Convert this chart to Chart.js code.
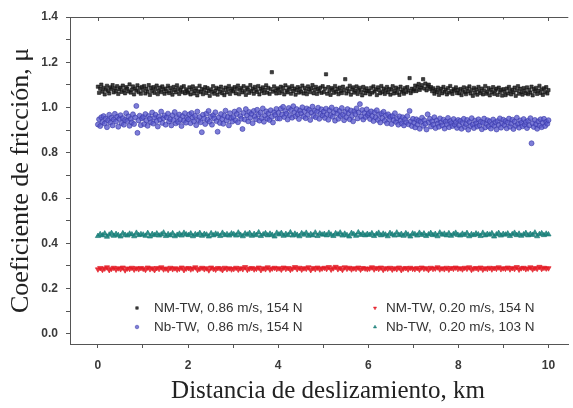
<!DOCTYPE html>
<html><head><meta charset="utf-8">
<script src="https://cdn.jsdelivr.net/npm/chart.js@4.4.1/dist/chart.umd.min.js"></script>
<style>html,body{margin:0;padding:0;background:#fff;}canvas{display:block;}</style>
</head><body>
<canvas id="c" width="573" height="408"></canvas>
<script>
// ---- data ----
const seriesLabels = [
  "NM-TW, 0.86 m/s, 154 N",
  "Nb-TW,  0.86 m/s, 154 N",
  "NM-TW, 0.20 m/s, 154 N",
  "Nb-TW,  0.20 m/s, 103 N"
];
const xAxisTitle = 'Distancia de deslizamiento, km';
const yAxisTitle = 'Coeficiente de fricción, μ';
const distanceStartKm = 0;
const distanceEndKm = 10;
const xTickValues = [0,1,2,3,4,5,6,7,8,9,10];
const xLabelValues = [0,2,4,6,8,10];
const yTickValues = [0,0.1,0.2,0.3,0.4,0.5,0.6,0.7,0.8,0.9,1.0,1.1,1.2,1.3,1.4];
const yLabelValues = [0,0.2,0.4,0.6,0.8,1.0,1.2,1.4];

const nmTw086 = [
1.092,1.065,1.083,1.101,1.070,1.087,1.058,1.079,1.096,1.074,1.062,1.089,1.081,1.099,1.067,1.085,1.072,1.094,1.060,1.080,
1.088,1.069,1.097,1.076,1.063,1.090,1.083,1.071,1.102,1.066,1.079,1.093,1.058,1.084,1.075,1.098,1.068,1.086,1.061,1.091,
1.077,1.095,1.062,1.083,1.070,1.099,1.056,1.086,1.073,1.090,1.065,1.081,1.097,1.059,1.075,1.088,1.068,1.093,1.079,1.061,
1.084,1.071,1.096,1.064,1.087,1.074,1.057,1.091,1.078,1.067,1.098,1.082,1.060,1.076,1.089,1.069,1.094,1.063,1.080,1.072,
1.066,1.089,1.058,1.079,1.093,1.062,1.074,1.085,1.054,1.071,1.096,1.068,1.082,1.059,1.077,1.090,1.064,1.086,1.073,1.052,
1.080,1.069,1.094,1.061,1.075,1.087,1.057,1.083,1.070,1.092,1.063,1.078,1.055,1.088,1.067,1.081,1.095,1.060,1.076,1.084,
1.071,1.090,1.063,1.082,1.097,1.059,1.078,1.086,1.067,1.094,1.074,1.056,1.088,1.080,1.065,1.099,1.072,1.084,1.061,1.091,
1.077,1.069,1.095,1.058,1.083,1.073,1.089,1.064,1.079,1.098,1.066,1.087,1.060,1.081,1.156,1.070,1.093,1.076,1.062,1.085,
1.079,1.064,1.092,1.071,1.086,1.058,1.098,1.075,1.067,1.089,1.081,1.061,1.095,1.073,1.084,1.057,1.077,1.090,1.066,1.083,
1.070,1.097,1.062,1.087,1.074,1.059,1.093,1.080,1.068,1.085,1.099,1.063,1.078,1.091,1.060,1.082,1.072,1.088,1.065,1.094,
1.068,1.083,1.147,1.061,1.090,1.074,1.056,1.086,1.079,1.065,1.095,1.070,1.082,1.059,1.088,1.073,1.064,1.092,1.077,1.125,
1.062,1.084,1.071,1.096,1.057,1.080,1.089,1.066,1.075,1.093,1.060,1.078,1.087,1.069,1.054,1.091,1.076,1.063,1.085,1.072,
1.074,1.058,1.087,1.066,1.093,1.071,1.080,1.055,1.089,1.077,1.063,1.095,1.069,1.084,1.060,1.076,1.091,1.067,1.082,1.057,
1.079,1.094,1.062,1.073,1.088,1.065,1.081,1.056,1.092,1.070,1.078,1.061,1.086,1.068,1.090,1.075,1.130,1.064,1.083,1.072,
1.080,1.097,1.073,1.091,1.104,1.078,1.088,1.099,1.125,1.084,1.106,1.076,1.093,1.101,1.082,1.090,1.072,1.085,1.061,1.077,
1.069,1.088,1.056,1.074,1.083,1.063,1.091,1.070,1.079,1.058,1.086,1.066,1.095,1.072,1.060,1.081,1.075,1.089,1.064,1.078,
1.063,1.082,1.055,1.074,1.089,1.068,1.059,1.085,1.071,1.093,1.062,1.078,1.052,1.087,1.066,1.080,1.057,1.091,1.073,1.064,
1.084,1.058,1.076,1.095,1.061,1.070,1.086,1.054,1.079,1.067,1.090,1.060,1.075,1.083,1.056,1.088,1.069,1.077,1.053,1.081,
1.070,1.055,1.084,1.062,1.091,1.073,1.058,1.079,1.067,1.088,1.052,1.076,1.094,1.061,1.083,1.069,1.057,1.086,1.074,1.063,
1.089,1.059,1.078,1.066,1.092,1.054,1.081,1.071,1.087,1.060,1.075,1.096,1.064,1.080,1.056,1.085,1.068,1.090,1.062,1.077
];
const nbTw086 = [
0.925,0.948,0.918,0.957,0.936,0.962,0.929,0.951,0.913,0.944,0.968,0.933,0.955,0.921,0.947,0.972,0.938,0.959,0.915,0.950,
0.966,0.931,0.953,0.924,0.945,0.975,0.940,0.961,0.919,0.949,0.934,0.970,0.927,0.956,1.007,0.888,0.943,0.964,0.922,0.952,
0.958,0.927,0.971,0.943,0.919,0.962,0.951,0.935,0.978,0.929,0.955,0.968,0.940,0.916,0.960,0.947,0.982,0.932,0.953,0.965,
0.924,0.957,0.973,0.938,0.949,0.921,0.966,0.944,0.980,0.930,0.958,0.936,0.969,0.946,0.918,0.962,0.941,0.975,0.933,0.954,
0.948,0.970,0.931,0.976,0.955,0.939,0.963,0.922,0.982,0.944,0.958,0.935,0.891,0.968,0.951,0.927,0.973,0.946,0.985,0.937,
0.960,0.924,0.966,0.952,0.979,0.940,0.893,0.957,0.932,0.971,0.949,0.928,0.964,0.986,0.943,0.958,0.921,0.975,0.953,0.938,
0.958,0.982,0.944,0.971,0.935,0.989,0.962,0.950,0.905,0.976,0.947,0.993,0.966,0.939,0.980,0.955,0.972,0.931,0.985,0.961,
0.948,0.990,0.969,0.942,0.977,0.953,0.996,0.937,0.964,0.983,0.951,0.974,0.945,0.988,0.959,0.934,0.979,0.967,0.994,0.952,
0.976,0.951,0.995,0.969,1.003,0.958,0.984,0.972,0.947,0.998,0.966,0.989,0.955,1.006,0.979,0.961,0.993,0.970,0.949,0.987,
0.974,1.001,0.960,0.983,0.953,0.996,0.968,0.990,0.945,0.978,1.004,0.963,0.986,0.957,0.981,0.999,0.950,0.972,0.992,0.965,
0.982,0.954,0.995,0.970,0.946,0.988,0.966,1.000,0.959,0.979,0.942,0.991,0.973,0.950,0.985,0.962,0.998,0.968,0.944,0.981,
0.957,0.993,0.975,0.948,0.987,0.963,0.939,0.984,0.971,0.996,0.952,0.978,1.015,0.960,0.989,0.947,0.976,0.958,0.992,0.967,
0.975,0.949,0.983,0.962,0.940,0.979,0.956,0.988,0.945,0.968,0.934,0.974,0.953,0.981,0.941,0.965,0.930,0.970,0.948,0.959,
0.927,0.963,0.944,0.975,0.936,0.952,0.924,0.961,0.942,0.930,0.957,0.921,0.948,0.935,0.962,0.926,0.985,0.939,0.918,0.950,
0.933,0.912,0.948,0.925,0.941,0.906,0.937,0.955,0.919,0.944,0.928,0.903,0.970,0.935,0.950,0.916,0.939,0.924,0.957,0.909,
0.943,0.929,0.915,0.952,0.934,0.921,0.946,0.907,0.938,0.926,0.954,0.913,0.940,0.931,0.918,0.949,0.924,0.936,0.910,0.945,
0.920,0.941,0.906,0.932,0.950,0.914,0.927,0.945,0.902,0.936,0.918,0.953,0.925,0.909,0.942,0.930,0.916,0.948,0.921,0.937,
0.904,0.933,0.951,0.912,0.928,0.944,0.917,0.939,0.907,0.926,0.947,0.919,0.935,0.903,0.940,0.923,0.952,0.911,0.931,0.946,
0.922,0.940,0.908,0.934,0.951,0.915,0.929,0.946,0.905,0.938,0.919,0.955,0.927,0.911,0.943,0.932,0.917,0.949,0.924,0.936,
0.909,0.942,0.921,0.953,0.842,0.930,0.914,0.945,0.926,0.906,0.939,0.920,0.948,0.913,0.933,0.950,0.918,0.937,0.928,0.944
];
const nmTw020 = [
0.285,0.291,0.283,0.289,0.294,0.282,0.288,0.292,0.284,0.290,0.286,0.293,0.281,0.289,0.287,0.292,0.284,0.290,0.286,0.291,
0.288,0.283,0.293,0.286,0.290,0.282,0.291,0.287,0.294,0.285,0.289,0.283,0.292,0.286,0.290,0.284,0.288,0.293,0.282,0.289,
0.291,0.285,0.289,0.294,0.283,0.288,0.292,0.286,0.290,0.281,0.293,0.287,0.284,0.291,0.289,0.282,0.292,0.286,0.290,0.285,
0.287,0.292,0.284,0.290,0.286,0.295,0.283,0.289,0.291,0.285,0.288,0.293,0.282,0.290,0.286,0.294,0.284,0.289,0.292,0.287,
0.290,0.284,0.293,0.287,0.291,0.283,0.289,0.295,0.286,0.292,0.284,0.290,0.288,0.294,0.282,0.291,0.286,0.293,0.285,0.289,
0.292,0.287,0.295,0.284,0.290,0.296,0.286,0.291,0.283,0.294,0.288,0.292,0.285,0.290,0.287,0.293,0.284,0.291,0.289,0.286,
0.289,0.294,0.285,0.291,0.287,0.293,0.283,0.290,0.288,0.292,0.284,0.290,0.286,0.293,0.282,0.289,0.291,0.285,0.292,0.288,
0.286,0.291,0.284,0.293,0.288,0.290,0.283,0.292,0.287,0.289,0.294,0.285,0.290,0.286,0.292,0.284,0.291,0.288,0.293,0.287,
0.290,0.285,0.292,0.288,0.294,0.283,0.289,0.291,0.286,0.293,0.284,0.290,0.287,0.292,0.285,0.291,0.288,0.294,0.286,0.290,
0.288,0.293,0.285,0.291,0.287,0.295,0.284,0.290,0.292,0.286,0.289,0.294,0.285,0.291,0.288,0.296,0.287,0.292,0.289,0.290
];
const nbTw020 = [
0.432,0.440,0.435,0.443,0.429,0.438,0.445,0.433,0.441,0.436,0.430,0.444,0.437,0.434,0.442,0.439,0.431,0.446,0.436,0.440,
0.438,0.433,0.445,0.430,0.441,0.436,0.443,0.434,0.439,0.447,0.432,0.440,0.435,0.444,0.431,0.437,0.442,0.434,0.446,0.439,
0.436,0.443,0.431,0.440,0.437,0.445,0.433,0.441,0.438,0.430,0.444,0.435,0.442,0.439,0.432,0.446,0.436,0.440,0.434,0.443,
0.440,0.434,0.447,0.437,0.431,0.443,0.438,0.445,0.433,0.441,0.436,0.448,0.432,0.439,0.444,0.435,0.442,0.437,0.430,0.446,
0.439,0.445,0.433,0.441,0.436,0.448,0.434,0.442,0.437,0.431,0.444,0.438,0.446,0.433,0.440,0.435,0.447,0.432,0.443,0.438,
0.441,0.435,0.446,0.438,0.432,0.444,0.439,0.447,0.434,0.442,0.436,0.430,0.445,0.440,0.433,0.448,0.437,0.443,0.435,0.441,
0.437,0.444,0.432,0.440,0.446,0.435,0.442,0.438,0.431,0.445,0.439,0.434,0.447,0.436,0.441,0.433,0.444,0.438,0.430,0.443,
0.440,0.434,0.446,0.437,0.443,0.432,0.439,0.445,0.436,0.441,0.431,0.447,0.438,0.442,0.435,0.444,0.433,0.440,0.446,0.437,
0.434,0.442,0.437,0.445,0.431,0.440,0.436,0.443,0.439,0.432,0.446,0.435,0.441,0.438,0.444,0.430,0.439,0.445,0.434,0.441,
0.438,0.443,0.432,0.440,0.446,0.436,0.442,0.433,0.439,0.445,0.435,0.441,0.437,0.447,0.431,0.440,0.444,0.436,0.442,0.439
];

// ---- helpers ----
function toPoints(vals){
  const n = vals.length - 1;
  return vals.map((v,i)=>({x: distanceStartKm + i*(distanceEndKm-distanceStartKm)/n, y: v}));
}
const AXIS_COLOR = '#555';
const styles = [
  {pointStyle:'rect', radius:2.3, bg:'rgba(28,28,28,0.85)', border:'rgba(20,20,20,0.85)', rot:0},
  {pointStyle:'circle', radius:2.5, bg:'rgba(90,90,205,0.78)', border:'rgba(55,55,165,0.85)', rot:0},
  {pointStyle:'triangle', radius:3, bg:'rgba(232,30,40,0.9)', border:'rgba(225,25,35,0.9)', rot:180},
  {pointStyle:'triangle', radius:3, bg:'rgba(30,135,128,0.9)', border:'rgba(20,120,115,0.9)', rot:0}
];
const seriesData = [nmTw086, nbTw086, nmTw020, nbTw020];

const datasets = seriesData.map((vals,k)=>({
  label: seriesLabels[k],
  data: toPoints(vals),
  pointStyle: styles[k].pointStyle,
  pointRadius: styles[k].radius,
  pointRotation: styles[k].rot,
  backgroundColor: styles[k].bg,
  borderColor: styles[k].border,
  borderWidth: 0.7,
  showLine: false
}));

const frameAndLegend = {
  id: 'frameAndLegend',
  afterDraw(chart){
    const ctx = chart.ctx, ca = chart.chartArea, xs = chart.scales.x;
    ctx.save();
    ctx.strokeStyle = AXIS_COLOR; ctx.lineWidth = 1;
    ctx.beginPath();
    ctx.moveTo(ca.left, ca.top + 0.5); ctx.lineTo(ca.right, ca.top + 0.5);
    xTickValues.forEach(v=>{
      const px = Math.round(xs.getPixelForValue(v)) + 0.5;
      const len = (xLabelValues.includes(v)) ? 4 : 2.5;
      ctx.moveTo(px, ca.top); ctx.lineTo(px, ca.top + len);
    });
    ctx.stroke();
    ctx.font = '25px "Liberation Serif", "Times New Roman", serif';
    ctx.fillStyle = '#222';
    ctx.textAlign = 'center';
    ctx.textBaseline = 'alphabetic';
    ctx.fillText(xAxisTitle, 328, 398);
    const pos = [[137,154,308],[137,154,327],[375,386,308],[375,386,327]];
    ctx.font = '13.5px "Liberation Sans", Arial, sans-serif';
    ctx.textAlign = 'left';
    ctx.textBaseline = 'middle';
    chart.data.datasets.forEach((ds,k)=>{
      const [mx, tx, ty] = pos[k];
      ctx.fillStyle = ds.backgroundColor; ctx.strokeStyle = ds.borderColor; ctx.lineWidth = 0.6;
      Chart.helpers.drawPoint(ctx, {
        pointStyle: ds.pointStyle, radius: 1.8, rotation: ds.pointRotation, borderWidth: 0.6
      }, mx, ty);
      ctx.fillStyle = '#333';
      ctx.fillText(ds.label, tx, ty);
    });
    ctx.restore();
  }
};

new Chart(document.getElementById('c'), {
  type: 'scatter',
  data: { datasets },
  options: {
    responsive: false,
    animation: false,
    devicePixelRatio: 1,
    layout: { padding: { top: 17, right: 0, left: 0, bottom: 0 } },
    plugins: { legend: { display: false }, tooltip: { enabled: false } },
    scales: {
      x: {
        type: 'linear', min: -0.62, max: 10.44,
        afterBuildTicks: s => { s.ticks = xTickValues.map(v=>({value:v})); },
        afterFit: s => { s.height = 64; },
        ticks: {
          padding: 10, color: '#3a3a3a',
          font: { family: '"Liberation Sans", Arial, sans-serif', size: 12, weight: 'bold' },
          callback: v => xLabelValues.includes(v) ? String(v) : ''
        },
        grid: { display: true, drawOnChartArea: false, drawTicks: true, tickLength: 4, color: AXIS_COLOR },
        border: { display: true, color: AXIS_COLOR, width: 1 },
        title: { display: false }
      },
      y: {
        type: 'linear', min: -0.045, max: 1.4,
        afterBuildTicks: s => { s.ticks = yTickValues.map(v=>({value:v})); },
        afterFit: s => { s.width = 70; },
        ticks: {
          padding: 8, color: '#3a3a3a',
          font: { family: '"Liberation Sans", Arial, sans-serif', size: 12, weight: 'bold' },
          callback: v => yLabelValues.some(l => Math.abs(l - v) < 1e-9) ? v.toFixed(1) : ''
        },
        grid: { display: true, drawOnChartArea: false, drawTicks: true, tickLength: 4, color: AXIS_COLOR },
        border: { display: true, color: AXIS_COLOR, width: 1 },
        title: {
          display: true, text: yAxisTitle, color: '#222',
          font: { family: '"Liberation Serif", "Times New Roman", serif', size: 26 },
          padding: { top: 6, bottom: 0 }
        }
      }
    }
  },
  plugins: [frameAndLegend]
});
</script>
</body></html>
